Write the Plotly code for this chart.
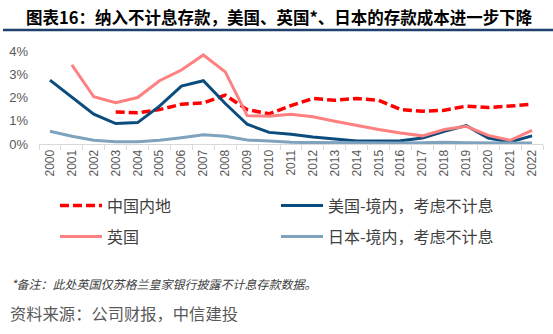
import plotly.graph_objects as go

years = [str(y) for y in range(2000, 2023)]
china = [None, None, None, 1.38, 1.34, 1.48, 1.71, 1.77, 2.10, 1.48, 1.30, 1.65, 1.96, 1.88, 1.96, 1.88, 1.48, 1.41, 1.45, 1.63, 1.57, 1.63, 1.71]
us = [2.75, 2.03, 1.28, 0.88, 0.92, 1.63, 2.49, 2.72, 1.74, 0.85, 0.50, 0.42, 0.30, 0.22, 0.13, 0.13, 0.14, 0.26, 0.55, 0.79, 0.26, 0.09, 0.35]
uk = [None, 3.40, 2.03, 1.78, 2.00, 2.72, 3.18, 3.83, 3.10, 1.22, 1.19, 1.28, 1.17, 0.98, 0.79, 0.62, 0.47, 0.35, 0.62, 0.76, 0.37, 0.16, 0.59]
japan = [0.55, 0.33, 0.16, 0.10, 0.10, 0.16, 0.27, 0.40, 0.33, 0.17, 0.13, 0.07, 0.06, 0.05, 0.04, 0.04, 0.04, 0.05, 0.07, 0.05, 0.04, 0.03, 0.04]

names = ["中国内地", "美国-境内，考虑不计息", "英国", "日本-境内，考虑不计息"]
title = "图表16：纳入不计息存款，美国、英国*、日本的存款成本进一步下降"
note = "*备注：此处英国仅苏格兰皇家银行披露不计息存款数据。"
source = "资料来源：公司财报，中信建投"

FONT = "Noto Sans CJK SC"

fig = go.Figure()
fig.add_trace(go.Scatter(x=years, y=china, name=names[0], mode="lines",
                         line=dict(color="#FF0000", width=3.5, dash="9px,4px"),
                         legend="legend"))
fig.add_trace(go.Scatter(x=years, y=us, name=names[1], mode="lines",
                         line=dict(color="#0B4C7C", width=3), legend="legend"))
fig.add_trace(go.Scatter(x=years, y=uk, name=names[2], mode="lines",
                         line=dict(color="#FF8081", width=3), legend="legend2"))
fig.add_trace(go.Scatter(x=years, y=japan, name=names[3], mode="lines",
                         line=dict(color="#7FA2BD", width=3), legend="legend2"))

W, H = 553, 334
L, R = 39, 543
T, B = 51, 143.7
pw, ph = R - L, B - T

def px_x(x):
    return (x - L) / pw

def px_y(y):
    return (B - y) / ph

legend_common = dict(orientation="h", entrywidth=164, entrywidthmode="pixels",
                     itemwidth=42, font=dict(family=FONT, size=16, color="#404040"),
                     bgcolor="rgba(0,0,0,0)", xanchor="left", yanchor="middle",
                     itemclick=False, itemdoubleclick=False, tracegroupgap=0)

fig.update_layout(
    width=W, height=H,
    margin=dict(l=L, r=W - R, t=T, b=H - B),
    paper_bgcolor="white", plot_bgcolor="white",
    showlegend=True,
    legend=dict(**legend_common, x=px_x(55), y=px_y(205)),
    legend2=dict(**legend_common, x=px_x(55), y=px_y(236)),
    xaxis=dict(type="category", range=[-0.5, 22.5], tickangle=-90,
               tickfont=dict(family="Liberation Sans", size=12, color="#595959"),
               showgrid=False, showline=True, linecolor="#D9D9D9", linewidth=1,
               ticks="outside", tickson="boundaries", ticklen=5, tickcolor="#D9D9D9",
               zeroline=False, fixedrange=True),
    yaxis=dict(range=[0, 4], dtick=1, ticksuffix="%", showgrid=False, zeroline=False,
               showline=False, ticks="", ticklabelstandoff=10,
               tickfont=dict(family="Liberation Sans", size=13, color="#595959"),
               fixedrange=True),
    annotations=[
        dict(text="<b>" + title + "</b>", xref="paper", yref="paper",
             x=px_x(24), y=px_y(17), xanchor="left", yanchor="middle", showarrow=False,
             font=dict(family=FONT, size=16.5, color="#000000")),
        dict(text="<i>" + note + "</i>", xref="paper", yref="paper",
             x=px_x(9), y=px_y(283), xanchor="left", yanchor="middle", showarrow=False,
             font=dict(family=FONT, size=12, color="#404040")),
        dict(text=source, xref="paper", yref="paper",
             x=px_x(8), y=px_y(312), xanchor="left", yanchor="middle", showarrow=False,
             font=dict(family=FONT, size=16.3, color="#595959")),
    ],
    shapes=[
        dict(type="line", xref="paper", yref="paper", x0=px_x(3), x1=px_x(553),
             y0=px_y(30), y1=px_y(30), line=dict(color="#1F3F6E", width=2.5)),
    ],
)

fig.write_html("out.html", config={"displayModeBar": False})
